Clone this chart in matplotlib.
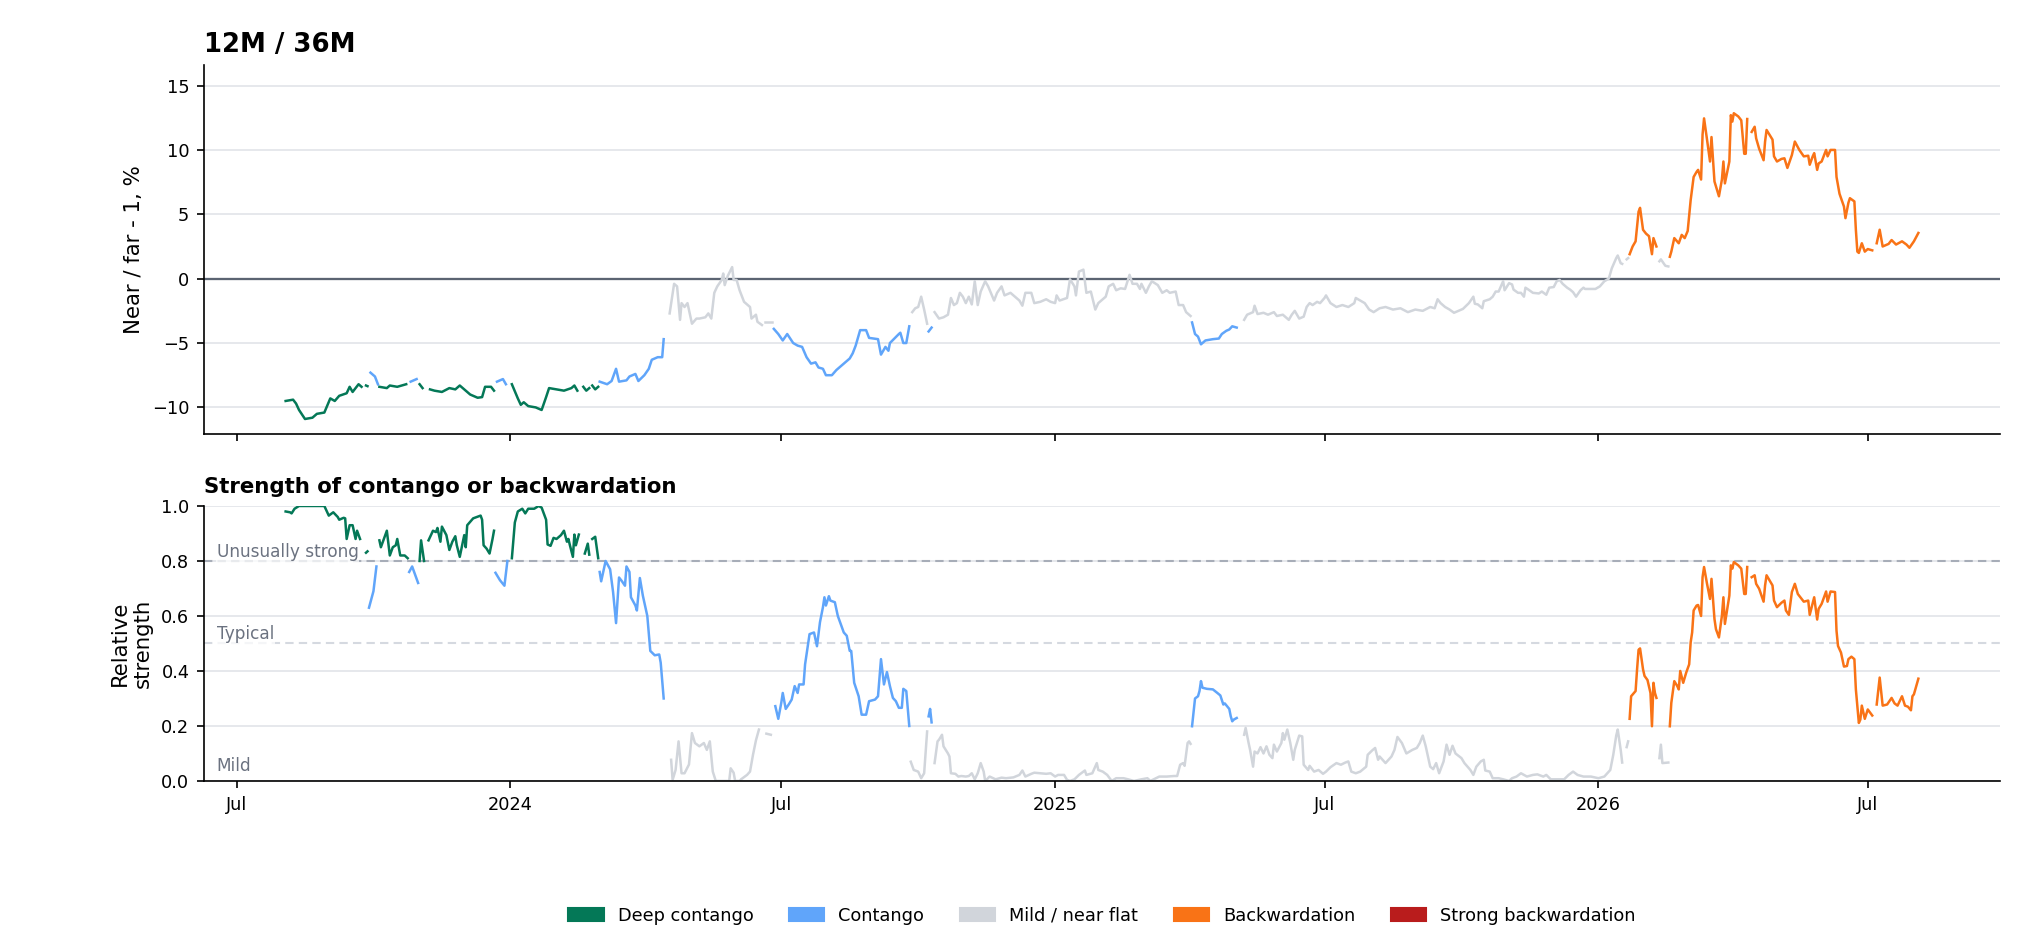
import numpy as np
import pandas as pd
import matplotlib
matplotlib.use('Agg')
import matplotlib.pyplot as plt
import matplotlib.dates as mdates
from matplotlib.ticker import FuncFormatter
from matplotlib.patches import Patch

# x values are days after this date
base = pd.Timestamp('2023-07-01')

# regime runs: day each run starts, and its regime
run_start = [32, 84.5, 86.5, 88.5, 95.5, 115.5, 122.5, 126.5, 128.5, 173.5, 182.5,
             230.5, 232.5, 237.5, 238.5, 243.5, 288.5, 353.5, 354.5, 360.5, 452.5,
             464.5, 468, 641.5, 675, 931.5, 932.5, 935.5, 955, 962.5, 1016, 1017.5,
             1100, 1101]
run_regime = ['deep', 'contango', 'deep', 'contango', 'deep', 'contango', 'deep',
              'contango', 'deep', 'contango', 'deep', 'contango', 'deep', 'contango',
              'deep', 'contango', 'mild', 'contango', 'mild', 'contango', 'mild',
              'contango', 'mild', 'contango', 'mild', 'backw', 'mild', 'backw', 'mild',
              'backw', 'strong', 'backw', 'mild', 'backw']

# 12M / 36M spread, %
top_day = [33, 38, 40, 42, 46, 51, 54, 59, 63, 66, 69, 74, 76, 78, 82, 84, 87, 88,
           90, 93, 95, 96, 101, 103, 108, 114, 117, 121, 123, 125,
           130, 133, 138, 143, 147, 150, 154, 157, 162, 165, 167, 171, 173,
           175, 179, 181, 185, 189, 191, 193, 196, 201, 205, 208, 210, 215, 220, 225, 227, 229,
           233, 235, 237, 239, 241, 243,
           244, 249, 252, 255, 257, 262, 264, 268, 270, 274, 277, 279, 283, 286, 287,
           291, 294, 296, 298, 299, 301, 303, 306, 309, 311, 315, 317, 319, 321, 323, 326, 327,
           328, 330, 333, 334, 336, 338, 341, 345, 346, 349, 350, 353, 355, 360,
           361, 364, 367, 370, 372, 374, 377, 380, 383, 386, 389, 391, 394, 396, 400, 403, 407,
           412, 414, 416, 419, 423, 425, 428, 431, 433, 436, 438, 439, 442, 445, 446, 448, 450, 452,
           454, 456, 458, 460, 462, 464, 465, 467,
           469, 472, 475, 478, 480, 482, 484, 486, 488, 490, 492, 494, 496, 498, 500, 503, 505,
           509, 511, 514, 516, 520, 523, 526, 528, 530, 534, 536, 540, 544, 547, 550, 551, 553,
           558, 560, 563, 564, 566, 569, 571, 574, 577, 579, 584, 586, 589, 591, 594, 597, 600,
           602, 605, 607, 608, 611, 613, 615, 619, 622, 625, 627, 631, 633, 636, 638, 641,
           642, 644, 646, 648, 651, 656, 660, 662, 665, 667, 669, 672,
           677, 679, 683, 684, 686, 690, 693, 697, 699, 703, 707, 709, 711, 714, 717, 719, 721,
           723, 726, 728, 731, 732, 735, 739, 743, 747, 751, 752, 755, 758, 761, 764, 768,
           772, 777, 782, 787, 792, 797, 802, 805, 807, 809, 812, 815, 818, 821, 824, 828, 831,
           832, 834, 837, 838, 842, 844, 846, 848, 851, 852, 855, 857, 858, 861, 863, 865, 866,
           868, 871, 875, 877, 880, 882, 885, 887, 889, 891, 894, 896, 898, 900, 903, 905, 906,
           913, 916, 919, 922, 924, 927, 928, 930, 931, 934, 935,
           936, 938, 940, 942, 943, 945, 947, 949, 951, 952, 954, 956, 957, 960, 962,
           963, 964, 966, 969, 971, 973, 975, 977, 979, 981, 982, 984, 985, 986, 988, 990, 991,
           993, 996, 998, 999, 1000, 1003, 1004, 1005, 1006, 1009, 1011, 1013, 1014, 1015,
           1018, 1020, 1021, 1023, 1026, 1027, 1028, 1032, 1033, 1035, 1038, 1040, 1042, 1045,
           1047, 1050, 1053, 1056, 1057, 1059, 1060, 1062, 1063, 1065, 1068, 1069, 1071, 1074,
           1075, 1077, 1080, 1081, 1083, 1084, 1087, 1088, 1089, 1090, 1092, 1094, 1096, 1099,
           1102, 1104, 1106, 1110, 1112, 1115, 1119, 1122, 1124, 1127, 1130]
top_val = [-9.5, -9.4, -9.7, -10.2, -10.9, -10.8, -10.5, -10.4, -9.3, -9.5, -9.1, -8.9, -8.4, -8.8, -8.2, -8.4, -8.3, -8.35,
           -7.3, -7.6, -8.2, -8.4, -8.5, -8.3, -8.4, -8.2, -8.0, -7.8, -8.2, -8.5,
           -8.6, -8.7, -8.8, -8.5, -8.6, -8.3, -8.7, -9.0, -9.25, -9.2, -8.4, -8.4, -8.7,
           -8.0, -7.8, -8.2, -8.2, -9.3, -9.8, -9.6, -9.9, -10.0, -10.2, -9.2, -8.5, -8.6, -8.7, -8.5, -8.3, -8.7,
           -8.4, -8.7, -8.5, -8.3, -8.6, -8.4,
           -8.0, -8.2, -7.95, -7.0, -8.0, -7.9, -7.6, -7.4, -7.95, -7.5, -7.0, -6.3, -6.1, -6.1, -4.7,
           -2.7, -0.4, -0.6, -3.2, -1.9, -2.2, -1.9, -3.5, -3.1, -3.1, -3.0, -2.7, -3.1, -1.1, -0.6, -0.1, 0.4,
           -0.5, 0.2, 0.9, -0.1, -0.1, -0.9, -1.8, -2.2, -3.1, -2.8, -3.35, -3.6, -3.35, -3.35,
           -3.9, -4.3, -4.8, -4.3, -4.65, -5.0, -5.2, -5.3, -6.1, -6.6, -6.5, -6.9, -7.0, -7.5, -7.5, -7.1, -6.7,
           -6.2, -5.8, -5.2, -4.0, -4.0, -4.6, -4.65, -4.7, -5.9, -5.3, -5.6, -5.0, -4.65, -4.3, -4.2, -5.0, -5.0, -3.7,
           -2.6, -2.3, -2.2, -1.4, -2.4, -3.5, -4.1, -3.8,
           -2.6, -3.1, -3.0, -2.8, -1.5, -2.05, -1.9, -1.1, -1.4, -1.9, -1.4, -2.0, -0.2, -2.05, -1.0, -0.2, -0.6,
           -1.7, -1.1, -0.6, -1.3, -1.1, -1.4, -1.7, -2.1, -1.1, -1.1, -1.9, -1.8, -1.6, -1.8, -1.9, -1.3, -1.7,
           -1.5, -0.05, -0.6, -1.3, 0.55, 0.7, -1.1, -1.0, -2.4, -1.9, -1.4, -0.6, -0.4, -0.9, -0.75, -0.8, 0.3,
           -0.4, -0.4, -0.8, -0.4, -1.1, -0.6, -0.2, -0.5, -1.1, -0.9, -1.1, -1.0, -2.05, -2.05, -2.6, -2.9,
           -3.4, -4.3, -4.5, -5.1, -4.8, -4.7, -4.65, -4.3, -4.05, -3.95, -3.7, -3.8,
           -3.2, -2.8, -2.6, -2.1, -2.75, -2.65, -2.8, -2.6, -2.9, -2.8, -3.2, -2.8, -2.5, -3.1, -2.95, -2.2, -1.9,
           -2.05, -1.8, -1.9, -1.5, -1.3, -1.9, -2.2, -2.05, -2.2, -1.9, -1.5, -1.7, -1.9, -2.4, -2.6, -2.3,
           -2.2, -2.4, -2.3, -2.6, -2.4, -2.5, -2.2, -2.3, -1.6, -1.9, -2.2, -2.4, -2.65, -2.5, -2.35, -1.9, -1.4,
           -1.95, -2.0, -2.3, -1.75, -1.6, -1.4, -1.0, -1.0, -0.2, -0.9, -0.35, -0.45, -0.85, -1.1, -1.1, -1.4, -0.7,
           -0.85, -1.1, -1.15, -1.0, -1.25, -0.7, -0.65, -0.2, -0.1, -0.4, -0.7, -0.85, -1.05, -1.4, -0.9, -0.7, -0.8,
           -0.8, -0.6, -0.2, 0.0, 0.8, 1.6, 1.8, 1.2, 1.15, 1.5, 1.6,
           1.9, 2.5, 2.9, 5.2, 5.5, 3.8, 3.5, 3.3, 1.9, 3.15, 2.5, 1.35, 1.5, 1.0, 0.95,
           1.7, 2.1, 3.15, 2.75, 3.4, 3.15, 3.7, 6.1, 7.9, 8.3, 8.45, 7.7, 11.2, 12.45, 10.8, 9.1, 11.0,
           7.55, 6.4, 7.7, 9.1, 7.4, 9.1, 12.7, 12.2, 12.85, 12.6, 12.3, 9.7, 9.7, 12.4,
           11.4, 11.8, 10.9, 10.1, 9.2, 10.65, 11.55, 10.8, 9.5, 9.1, 9.3, 9.35, 8.6, 9.6,
           10.65, 10.0, 9.5, 9.55, 8.85, 9.5, 9.75, 8.45, 8.95, 9.1, 10.0, 9.5, 10.0, 10.0,
           7.9, 6.6, 5.6, 4.7, 5.9, 6.25, 6.0, 3.8, 2.1, 2.0, 2.75, 2.1, 2.3, 2.2,
           2.75, 3.8, 2.5, 2.7, 3.0, 2.65, 2.9, 2.65, 2.4, 2.9, 3.55]

# relative strength, 0..1
str_day = [33, 36, 37, 39, 42, 46, 51, 59, 62, 65, 68, 69, 72, 73, 74, 76, 78, 80, 81, 83, 87, 88,
           89, 92, 94, 96, 97, 101, 103, 105, 107, 108, 110, 113, 115, 116, 118, 122, 123, 124, 126,
           129, 132, 134, 135, 137, 138, 141, 143, 145, 147, 148, 150, 153, 154, 155, 159, 164, 165,
           166, 168, 170, 172, 173, 174, 177, 180, 182,
           185, 187, 189, 192, 194, 196, 200, 203, 205, 208, 209, 211, 213, 215, 218, 220, 222, 223,
           224, 226, 227, 228, 230, 234, 236, 237, 239, 241, 243,
           244, 245, 248, 251, 253, 255, 257, 259, 261, 262, 264, 265, 268, 269, 271, 273, 276, 278,
           281, 284, 285, 287,
           292, 293, 295, 297, 299, 301, 304, 306, 308, 311, 314, 316, 318, 320, 322, 327, 331, 332,
           334, 335, 338, 339, 343, 345, 347, 349, 351, 356, 359,
           362, 364, 366, 367, 369, 371, 373, 375, 377, 378, 381, 382, 385, 388, 390, 392, 394, 395,
           396, 398, 399, 402, 404, 406, 408, 410, 412, 413, 415, 418, 420, 423, 425, 429, 431, 433,
           435, 437, 439, 441, 443, 445, 447, 448, 450, 452,
           453, 455, 458, 460, 462, 464, 465, 466, 467,
           469, 471, 472, 474, 475, 478, 479, 480, 483, 485, 487, 490, 492, 494, 496, 498, 500, 502,
           503, 506, 510, 514, 517, 522, 526, 528, 530, 534, 536, 540, 544, 547, 550, 552, 556, 558,
           560, 563, 566, 570, 571, 575, 578, 579, 582, 585, 588, 591, 596, 599, 603, 608, 612, 614,
           620, 625, 630, 632, 634, 636, 637, 639, 640, 641,
           642, 644, 646, 647, 648, 649, 652, 656, 659, 661, 663, 664, 667, 668, 669, 670, 672,
           677, 678, 680, 681, 683, 684, 686, 688, 690, 692, 694, 696, 697, 699, 702, 703, 704, 706,
           708, 710, 711, 714, 716, 717, 720, 721, 724, 727, 730, 732, 735, 739, 742, 745, 747, 749,
           752, 755, 759, 760, 763, 765, 767, 768, 770, 772, 776, 778, 780, 783, 786, 790, 793, 795,
           797, 799, 802, 804, 806, 808, 811, 813, 815, 817, 819, 823, 825, 829, 831, 833, 836, 838,
           839, 842, 844, 848, 851, 855, 857, 860, 863, 867, 871, 874, 878, 880, 883, 886, 892, 895,
           898, 901, 905, 910, 915, 919, 923, 925, 927, 928, 930, 931, 934, 935,
           936, 937, 940, 941, 942, 943, 945, 946, 948, 950, 951, 952, 953, 954, 956, 957, 958, 962,
           963, 964, 966, 968, 969, 970, 972, 974, 976, 977, 978, 979, 981, 982, 984, 985, 986, 988,
           990, 991, 993, 994, 996, 998, 999, 1000, 1003, 1004, 1005, 1006, 1009, 1011, 1013, 1014,
           1015, 1018, 1020, 1021, 1023, 1026, 1027, 1028, 1032, 1033, 1035, 1038, 1040, 1041,
           1043, 1045, 1047, 1049, 1053, 1056, 1057, 1060, 1062, 1063, 1065, 1068, 1069, 1071,
           1074, 1075, 1076, 1078, 1080, 1082, 1083, 1085, 1087, 1088, 1090, 1091, 1092, 1094,
           1096, 1099, 1102, 1104, 1106, 1109, 1112, 1114, 1116, 1119, 1121, 1123, 1125, 1126,
           1127, 1130]
str_val = [0.98, 0.977, 0.973, 0.99, 1.0, 1.0, 1.0, 1.0, 0.965, 0.977, 0.96, 0.95, 0.957, 0.955, 0.88, 0.93, 0.93, 0.88, 0.91, 0.88, 0.83, 0.835,
           0.63, 0.69, 0.78, 0.875, 0.85, 0.91, 0.82, 0.85, 0.857, 0.88, 0.82, 0.82, 0.81, 0.76, 0.78, 0.72, 0.80, 0.875, 0.80,
           0.875, 0.91, 0.905, 0.92, 0.87, 0.925, 0.894, 0.84, 0.87, 0.89, 0.857, 0.815, 0.894, 0.85, 0.93, 0.955, 0.965, 0.95,
           0.857, 0.845, 0.827, 0.88, 0.91, 0.757, 0.73, 0.71, 0.80,
           0.81, 0.94, 0.98, 0.99, 0.973, 0.99, 0.99, 1.0, 0.994, 0.95, 0.86, 0.855, 0.884, 0.88, 0.894, 0.91, 0.87, 0.88,
           0.857, 0.815, 0.896, 0.857, 0.896, 0.827, 0.863, 0.823, 0.88, 0.888, 0.81,
           0.76, 0.726, 0.80, 0.77, 0.687, 0.574, 0.74, 0.726, 0.71, 0.78, 0.76, 0.668, 0.638, 0.62, 0.738, 0.674, 0.60, 0.473,
           0.457, 0.46, 0.43, 0.30,
           0.077, 0.004, 0.04, 0.144, 0.028, 0.028, 0.06, 0.174, 0.138, 0.126, 0.138, 0.113, 0.144, 0.034, 0.0, 0.0, 0.0, 0.046,
           0.03, 0.0, 0.0, 0.006, 0.022, 0.034, 0.095, 0.148, 0.187, 0.172, 0.168,
           0.272, 0.226, 0.284, 0.32, 0.262, 0.278, 0.296, 0.345, 0.32, 0.351, 0.351, 0.424, 0.534, 0.54, 0.49, 0.577, 0.632, 0.668,
           0.638, 0.672, 0.656, 0.65, 0.60, 0.57, 0.54, 0.528, 0.473, 0.473, 0.357, 0.308, 0.241, 0.241, 0.29, 0.296, 0.308, 0.443,
           0.351, 0.396, 0.345, 0.302, 0.29, 0.266, 0.266, 0.335, 0.327, 0.20,
           0.07, 0.04, 0.034, 0.01, 0.028, 0.18, 0.235, 0.262, 0.213,
           0.065, 0.144, 0.15, 0.168, 0.126, 0.10, 0.089, 0.028, 0.026, 0.016, 0.018, 0.016, 0.018, 0.028, 0.006, 0.028, 0.065, 0.034,
           0.0, 0.016, 0.006, 0.012, 0.01, 0.013, 0.022, 0.038, 0.016, 0.026, 0.03, 0.028, 0.026, 0.028, 0.016, 0.022, 0.022, 0.004,
           0.0, 0.006, 0.022, 0.038, 0.022, 0.028, 0.065, 0.04, 0.034, 0.022, 0.0, 0.01, 0.01, 0.006, 0.0, 0.006, 0.01, 0.0,
           0.016, 0.016, 0.018, 0.018, 0.059, 0.065, 0.055, 0.138, 0.144, 0.135,
           0.199, 0.30, 0.308, 0.327, 0.363, 0.339, 0.335, 0.333, 0.32, 0.311, 0.278, 0.282, 0.262, 0.235, 0.217, 0.223, 0.229,
           0.168, 0.193, 0.138, 0.113, 0.052, 0.107, 0.10, 0.123, 0.10, 0.126, 0.095, 0.083, 0.132, 0.107, 0.138, 0.174, 0.15, 0.187,
           0.138, 0.077, 0.113, 0.165, 0.162, 0.059, 0.04, 0.055, 0.034, 0.04, 0.026, 0.034, 0.05, 0.065, 0.059, 0.067, 0.071, 0.034,
           0.028, 0.034, 0.052, 0.095, 0.111, 0.12, 0.077, 0.089, 0.077, 0.065, 0.089, 0.113, 0.16, 0.138, 0.10, 0.113, 0.12, 0.138,
           0.165, 0.126, 0.052, 0.043, 0.065, 0.028, 0.071, 0.132, 0.095, 0.128, 0.10, 0.083, 0.065, 0.04, 0.022, 0.052, 0.071, 0.077,
           0.038, 0.034, 0.01, 0.01, 0.006, 0.0, 0.01, 0.016, 0.028, 0.016, 0.022, 0.024, 0.016, 0.022, 0.006, 0.006, 0.006, 0.022,
           0.034, 0.022, 0.016, 0.016, 0.01, 0.016, 0.04, 0.095, 0.165, 0.187, 0.113, 0.067, 0.123, 0.144,
           0.226, 0.308, 0.327, 0.406, 0.477, 0.482, 0.406, 0.382, 0.367, 0.32, 0.199, 0.357, 0.32, 0.302, 0.083, 0.132, 0.065, 0.067,
           0.199, 0.284, 0.363, 0.345, 0.333, 0.40, 0.357, 0.394, 0.424, 0.504, 0.54, 0.62, 0.638, 0.64, 0.60, 0.741, 0.778, 0.717,
           0.662, 0.735, 0.589, 0.552, 0.522, 0.601, 0.668, 0.571, 0.674, 0.784, 0.772, 0.796, 0.784, 0.772, 0.68, 0.68,
           0.778, 0.741, 0.748, 0.717, 0.699, 0.652, 0.711, 0.748, 0.711, 0.656, 0.632, 0.648, 0.656, 0.62,
           0.604, 0.687, 0.717, 0.68, 0.652, 0.656, 0.604, 0.668, 0.587, 0.626, 0.644, 0.689, 0.652, 0.689,
           0.687, 0.546, 0.491, 0.467, 0.416, 0.418, 0.443, 0.452, 0.443, 0.333, 0.211, 0.223, 0.274, 0.226,
           0.26, 0.238, 0.278, 0.376, 0.274, 0.278, 0.302, 0.282, 0.274, 0.308, 0.274, 0.27, 0.257, 0.308,
           0.315, 0.372]

regime_order = ['deep', 'contango', 'mild', 'backw', 'strong']
regime_label = {'deep': 'Deep contango', 'contango': 'Contango', 'mild': 'Mild / near flat',
                'backw': 'Backwardation', 'strong': 'Strong backwardation'}
regime_color = {'deep': '#047857', 'contango': '#60a5fa', 'mild': '#d1d5db',
                'backw': '#f97316', 'strong': '#b91c1c'}


def split_runs(days, vals):
    days = np.asarray(days, dtype=float)
    vals = np.asarray(vals, dtype=float)
    ends = run_start[1:] + [np.inf]
    for s, e, reg in zip(run_start, ends, run_regime):
        m = (days >= s) & (days < e)
        if m.sum() > 1:
            dates = (base + pd.to_timedelta(days[m], unit='D')).to_numpy()
            yield dates, vals[m], reg


fig, (ax1, ax2) = plt.subplots(2, 1, figsize=(13.6, 6.34), dpi=150, sharex=True,
                               gridspec_kw=dict(height_ratios=[369.5, 275]))
fig.subplots_adjust(left=0.1, right=0.9804, top=0.9317, bottom=0.1788, hspace=0.222)

# top panel: spread
for d, v, reg in split_runs(top_day, top_val):
    ax1.plot(d, v, color=regime_color[reg], lw=1.2, solid_joinstyle='round')
ax1.axhline(0, color='#5b6472', lw=1.1, zorder=1.5)
ax1.set_ylim(-12.1, 16.6)
ax1.set_yticks([-10, -5, 0, 5, 10, 15])
ax1.grid(axis='y', color='#e5e7eb', lw=0.9)
ax1.set_axisbelow(True)
ax1.set_title('12M / 36M', loc='left', fontweight='bold', fontsize=12.5)
ax1.set_ylabel('Near / far - 1, %', fontsize=10.2)

# bottom panel: strength
for d, v, reg in split_runs(str_day, str_val):
    ax2.plot(d, v, color=regime_color[reg], lw=1.2, solid_joinstyle='round')
ax2.axhline(0.8, color='#a7adb8', lw=1.0, ls=(0, (4, 2.5)), zorder=1.5)
ax2.axhline(0.5, color='#d5d9e0', lw=1.0, ls=(0, (4, 2.5)), zorder=1.5)
ax2.set_ylim(0, 1)
ax2.set_yticks([0, 0.2, 0.4, 0.6, 0.8, 1.0])
ax2.grid(axis='y', color='#e5e7eb', lw=0.9)
ax2.set_axisbelow(True)
ax2.set_title('Strength of contango or backwardation', loc='left', fontweight='bold', fontsize=10.2)
ax2.set_ylabel('Relative\nstrength', fontsize=10.2)

tr = ax2.get_yaxis_transform()
box = dict(facecolor='white', alpha=0.75, edgecolor='none', pad=0.5)
ax2.text(0.007, 0.8, 'Unusually strong', transform=tr, va='bottom', fontsize=8.1,
         color='#6b7280', bbox=box)
ax2.text(0.007, 0.5, 'Typical', transform=tr, va='bottom', fontsize=8.1,
         color='#6b7280', bbox=box)
ax2.text(0.007, 0.02, 'Mild', transform=tr, va='bottom', fontsize=8.1,
         color='#6b7280', bbox=box)

ax2.xaxis.set_major_locator(mdates.MonthLocator(bymonth=[1, 7]))


def date_label(x, pos):
    d = mdates.num2date(x)
    return str(d.year) if d.month == 1 else d.strftime('%b')


ax2.xaxis.set_major_formatter(FuncFormatter(date_label))

for ax in (ax1, ax2):
    ax.spines['top'].set_visible(False)
    ax.spines['right'].set_visible(False)
    ax.tick_params(labelsize=8.5)

handles = [Patch(color=regime_color[k], label=regime_label[k]) for k in regime_order]
ax2.legend(handles=handles, loc='center', bbox_to_anchor=(0.5, -0.49), ncol=5,
           frameon=False, fontsize=8.5)

fig.savefig('out.png', dpi=150)
